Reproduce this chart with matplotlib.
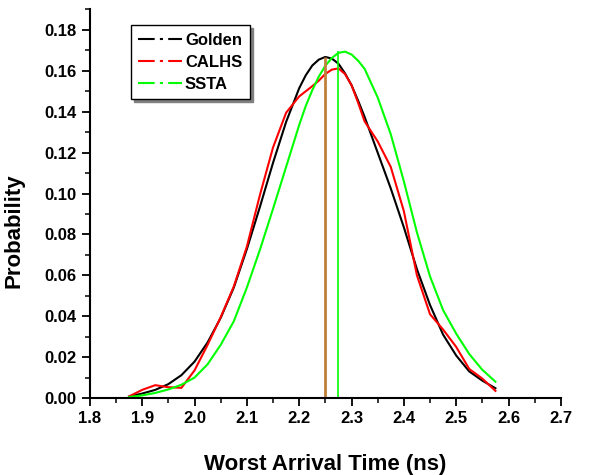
import matplotlib
matplotlib.use("Agg")
import matplotlib.pyplot as plt
from matplotlib.lines import Line2D
from matplotlib.ticker import MultipleLocator, FormatStrFormatter

plt.rcParams["font.family"] = ["Liberation Sans", "DejaVu Sans"]
plt.rcParams["font.weight"] = "bold"

# worst arrival time (ns)
tiempos = [1.875, 1.9, 1.925, 1.95, 1.975, 2.0, 2.025, 2.05, 2.075, 2.1,
           2.125, 2.15, 2.175, 2.2, 2.2125, 2.225, 2.2375, 2.25, 2.2625, 2.275,
           2.2875, 2.3, 2.3125, 2.325, 2.35, 2.375, 2.4, 2.425, 2.45, 2.475,
           2.5, 2.525, 2.55, 2.575]

golden = [0.0007, 0.0022, 0.0040, 0.0068, 0.0112, 0.0178, 0.0272, 0.0392, 0.0540, 0.0728,
          0.0935, 0.1150, 0.1350, 0.1515, 0.1578, 0.1626, 0.1655, 0.1668, 0.1660, 0.1635,
          0.1588, 0.1530, 0.1455, 0.1375, 0.1200, 0.1025, 0.0835, 0.0630, 0.0455, 0.0310,
          0.0208, 0.0130, 0.0085, 0.0048]

calhs = [0.0008, 0.0040, 0.0063, 0.0053, 0.0050, 0.0135, 0.0260, 0.0395, 0.0545, 0.0740,
         0.0993, 0.1225, 0.1395, 0.1475, 0.1500, 0.1525, 0.1552, 0.1585, 0.1606, 0.1612,
         0.1585, 0.1530, 0.1445, 0.1353, 0.1255, 0.1130, 0.0914, 0.0600, 0.0410, 0.0335,
         0.0250, 0.0142, 0.0095, 0.0035]

ssta = [0.0005, 0.0013, 0.0025, 0.0042, 0.0065, 0.0100, 0.0165, 0.0260, 0.0375, 0.0540,
        0.0725, 0.0925, 0.1130, 0.1335, 0.1428, 0.1505, 0.1572, 0.1625, 0.1663, 0.1688,
        0.1694, 0.1680, 0.1650, 0.1610, 0.1470, 0.1290, 0.1060, 0.0810, 0.0595, 0.0430,
        0.0315, 0.0215, 0.0138, 0.0080]

# mean markers (vertical lines)
media_golden = 2.25
pico_golden = 0.167
media_ssta = 2.275
pico_ssta = 0.1695

fig = plt.figure(figsize=(5.91, 4.75), dpi=100)
ax = fig.add_axes([0.152, 0.162, 0.797, 0.818])

ax.plot(tiempos, golden, color="black", lw=1.5)
ax.plot(tiempos, calhs, color="#ff0000", lw=1.5)
ax.plot(tiempos, ssta, color="#00ff00", lw=1.5)
ax.vlines(media_golden, 0, pico_golden, color="#c0803c", lw=2)
ax.vlines(media_ssta, 0, pico_ssta, color="#00ff00", lw=1.2)

ax.set_xlim(1.8, 2.7)
ax.set_ylim(0, 0.19)
ax.xaxis.set_major_locator(MultipleLocator(0.1))
ax.xaxis.set_minor_locator(MultipleLocator(0.05))
ax.yaxis.set_major_locator(MultipleLocator(0.02))
ax.yaxis.set_minor_locator(MultipleLocator(0.01))
ax.xaxis.set_major_formatter(FormatStrFormatter("%.1f"))
ax.yaxis.set_major_formatter(FormatStrFormatter("%.2f"))

for lado in ["top", "right"]:
    ax.spines[lado].set_visible(False)
for lado in ["left", "bottom"]:
    ax.spines[lado].set_linewidth(1.5)
ax.tick_params(which="major", direction="out", length=6, width=1.3, labelsize=12)
ax.tick_params(which="minor", direction="out", length=3.5, width=1.1)
for t in ax.get_xticklabels() + ax.get_yticklabels():
    t.set_fontweight("bold")

ax.set_xlabel("Worst Arrival Time (ns)", fontsize=16, fontweight="bold", labelpad=20)
ax.set_ylabel("Probability", fontsize=16, fontweight="bold")
ax.yaxis.set_label_coords(-0.138, 0.43)

patron = (0, (8, 2.5, 1.5, 2.5))
handles = [Line2D([], [], color="black", lw=1.5, linestyle=patron),
           Line2D([], [], color="#ff0000", lw=1.5, linestyle=patron),
           Line2D([], [], color="#00ff00", lw=1.5, linestyle=patron)]
leg = ax.legend(handles, ["Golden", "CALHS", "SSTA"], loc="upper left",
                bbox_to_anchor=(0.087, 0.960), borderaxespad=0, fancybox=False,
                edgecolor="black", framealpha=1, handlelength=2.6, handletextpad=0.2,
                labelspacing=0.42, borderpad=0.45,
                prop={"size": 12, "weight": "bold"},
                shadow={"color": "#808080", "alpha": 1})
leg.get_frame().set_linewidth(1.0)

fig.savefig("out.png", dpi=100)
